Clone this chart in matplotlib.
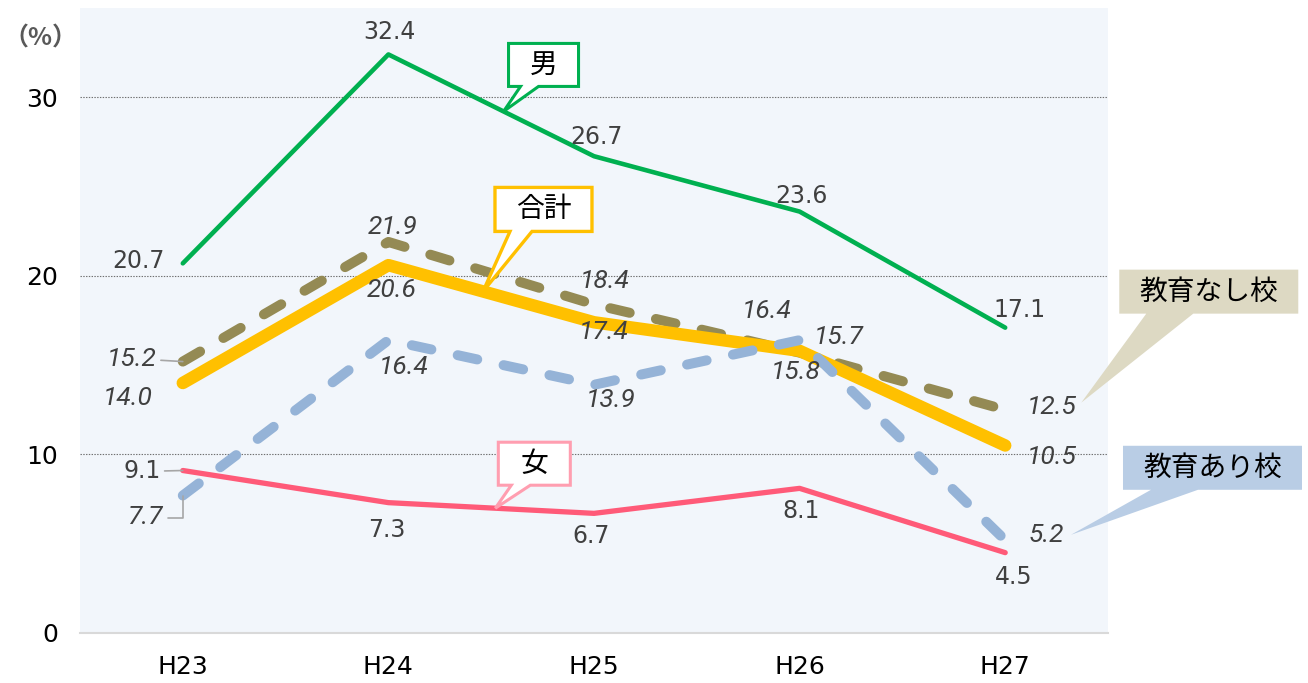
import numpy as np
import matplotlib
matplotlib.use("Agg")
import matplotlib.pyplot as plt
from matplotlib.patches import Polygon
from matplotlib.transforms import IdentityTransform
from matplotlib import font_manager

plt.rcParams['font.family'] = ['DejaVu Sans', 'Noto Sans CJK JP']
plt.rcParams['lines.scale_dashes'] = False

# data
years = ['H23', 'H24', 'H25', 'H26', 'H27']
male = [20.7, 32.4, 26.7, 23.6, 17.1]
total = [14.0, 20.6, 17.4, 15.8, 10.5]
no_edu = [15.2, 21.9, 18.4, 15.7, 12.5]
with_edu = [7.7, 16.4, 13.9, 16.4, 5.2]
female = [9.1, 7.3, 6.7, 8.1, 4.5]

# label offsets in pixels (x right, y up)
off_male = [(-44, 2), (1, 22), (2, 19), (2, 16), (14, 18)]
off_total = [(-55, -15), (3, -25), (10, -10), (-4, -21), (47, -12)]
off_no_edu = [(-51, 3), (4, 15), (11, 23), (39, 16), (47, 3)]
off_with_edu = [(-37, -22), (15, -27), (17, -15), (-33, 29), (41, 5)]
off_female = [(-41, -1), (-2, -27), (-3, -23), (1, -23), (8, -24)]

x = np.arange(len(years))

# a narrow-ish italic face for the italic labels, if one is there
ital_family, ital_size = 'DejaVu Sans', 17
for fam, size in [('Liberation Sans Narrow', 20), ('Roboto', 19), ('Lato', 20), ('Open Sans', 18)]:
    try:
        path = font_manager.findfont(font_manager.FontProperties(family=fam, style='italic'),
                                     fallback_to_default=False)
    except Exception:
        continue
    if 'italic' in path.lower() and fam.split()[0].lower() in path.lower():
        ital_family, ital_size = fam, size
        break

fig = plt.figure(figsize=(13.08, 6.83), dpi=100)
ax = fig.add_axes([80 / 1308, 50 / 683, 1028 / 1308, 625 / 683])
ax.set_facecolor('#f2f6fb')

ax.plot(x, no_edu, color='#948a54', lw=7.2, dashes=(14.4, 19.4), dash_capstyle='round', zorder=2)
ax.plot(x, total, color='#ffc000', lw=9.0, solid_capstyle='round', solid_joinstyle='round', zorder=3)
ax.plot(x, female, color='#ff5a78', lw=3.8, solid_capstyle='round', solid_joinstyle='round', zorder=4)
ax.plot(x, with_edu, color='#95b3d7', lw=7.2, dashes=(14.4, 19.4), dash_capstyle='round', zorder=5)
ax.plot(x, male, color='#00b050', lw=3.3, solid_capstyle='round', solid_joinstyle='round', zorder=6)

ax.set_xlim(-0.5, 4.5)
ax.set_ylim(0, 35)
ax.set_xticks(x)
ax.set_xticklabels(years, fontsize=18)
ax.set_yticks([0, 10, 20, 30])
ax.tick_params(axis='both', length=0, colors='black')
ax.tick_params(axis='y', pad=16, labelsize=18)
ax.tick_params(axis='x', pad=16)
for s in ['top', 'right', 'left']:
    ax.spines[s].set_visible(False)
ax.spines['bottom'].set_color('#d9d9d9')
ax.spines['bottom'].set_linewidth(1.5)
ax.yaxis.grid(True, linestyle=(0, (1, 1)), color='#707070', lw=0.8)
ax.set_axisbelow(True)

fig.text(40 / 1308, 1 - 38 / 683, '（%）', fontsize=18, color='#595959', fontweight='bold',
         family='Noto Sans CJK JP', ha='center', va='center')

lead = dict(arrowstyle='-', color='#a6a6a6', lw=1.2, shrinkA=1, shrinkB=0)


def labels(vals, offs, italic, leaders=None):
    leaders = leaders or {}
    for i, (v, o) in enumerate(zip(vals, offs)):
        kw = dict(fontsize=17, color='#404040', family='DejaVu Sans')
        if italic:
            kw = dict(fontsize=ital_size, color='#404040', family=ital_family, style='italic')
        ax.annotate(f'{v:.1f}', (i, v), xytext=o, textcoords='offset pixels',
                    ha='center', va='center', arrowprops=leaders.get(i), zorder=8, **kw)


labels(male, off_male, False)
labels(total, off_total, True)
labels(no_edu, off_no_edu, True, {0: lead})
labels(with_edu, off_with_edu, True,
       {0: dict(lead, connectionstyle='angle,angleA=0,angleB=90,rad=0')})
labels(female, off_female, False, {0: lead})


def callout(tip, box, base, text, fc, ec, lw, fs=20):
    tx, ty = ax.transData.transform(tip)
    l, r, b, t = box
    b0, b1 = base
    verts = [(tx + l, ty + b), (tx + b0, ty + b), (tx, ty), (tx + b1, ty + b),
             (tx + r, ty + b), (tx + r, ty + t), (tx + l, ty + t)]
    fig.add_artist(Polygon(verts, closed=True, fc=fc, ec=ec, lw=lw, joinstyle='miter',
                           transform=IdentityTransform(), zorder=10))
    fig.text(tx + (l + r) / 2, ty + (b + t) / 2, text, transform=IdentityTransform(),
             fontsize=fs, family='Noto Sans CJK JP', ha='center', va='center', zorder=11)


callout((1.56, np.interp(1.56, x, male)), (5, 75, 25, 68), (17, 35), '男', 'white', '#00b050', 2.2)
callout((1.46, np.interp(1.46, x, total)), (12, 109, 60, 104), (27, 49), '合計', 'white', '#ffc000', 2.4)
callout((1.52, np.interp(1.52, x, female)), (3, 75, 23, 66), (16, 35), '女', 'white', '#ff9eb0', 2.2)
callout((4.37, 12.9), (38, 217, 89, 133), (65, 112), '教育なし校', '#ddd9c3', 'none', 0)
callout((4.32, 5.5), (52, 231, 45, 89), (80, 127), '教育あり校', '#b9cde5', 'none', 0)

fig.savefig('out.png', dpi=100)
